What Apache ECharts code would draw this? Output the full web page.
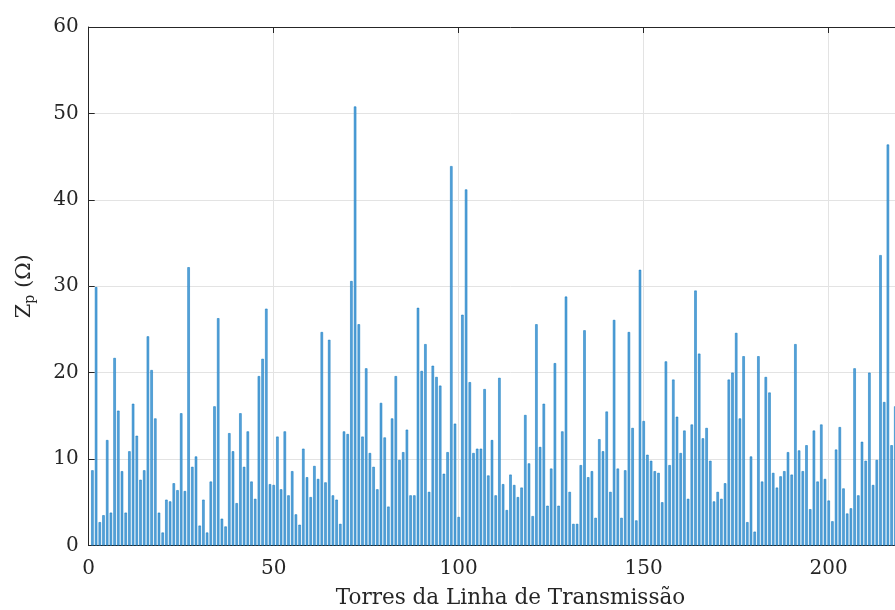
<!DOCTYPE html>
<html>
<head>
<meta charset="utf-8">
<script src="https://cdn.jsdelivr.net/npm/echarts@6/dist/echarts.min.js"></script>
<style>
html,body{margin:0;padding:0;background:#fff;overflow:hidden;}
#wrap{width:895px;height:610px;overflow:hidden;position:relative;}
#c{position:absolute;left:0;top:0;width:940px;height:610px;}
</style>
</head>
<body>
<div id="wrap"><div id="c"></div></div>
<script>
// Tower index (1..218) and grounding impedance Zp (ohm)
const towers = [];
const zp = [
8.7,29.9,2.7,3.5,12.2,3.8,21.7,15.6,8.6,3.8,
10.9,16.4,12.7,7.6,8.7,24.2,20.3,14.7,3.8,1.5,
5.3,5.1,7.2,6.4,15.3,6.3,32.2,9.1,10.3,2.3,
5.3,1.5,7.4,16.1,26.3,3.1,2.2,13.0,10.9,4.9,
15.3,9.1,13.2,7.4,5.4,19.6,21.6,27.4,7.1,7.0,
12.6,6.5,13.2,5.8,8.6,3.6,2.4,11.2,7.9,5.6,
9.2,7.7,24.7,7.3,23.8,5.8,5.3,2.5,13.2,12.9,
30.6,50.8,25.6,12.6,20.5,10.7,9.1,6.5,16.5,12.5,
4.5,14.7,19.6,9.9,10.8,13.4,5.8,5.8,27.5,20.2,
23.3,6.2,20.8,19.5,18.5,8.3,10.8,43.9,14.1,3.3,
26.7,41.2,18.9,10.7,11.2,11.2,18.1,8.1,12.2,5.8,
19.4,7.1,4.1,8.2,7.0,5.6,6.7,15.1,9.5,3.4,
25.6,11.4,16.4,4.6,8.9,21.1,4.6,13.2,28.8,6.2,
2.5,2.5,9.3,24.9,7.9,8.6,3.2,12.3,10.9,15.5,
6.2,26.1,8.9,3.2,8.7,24.7,13.6,2.9,31.9,14.4,
10.5,9.8,8.6,8.4,5.0,21.3,9.3,19.2,14.9,10.7,
13.3,5.4,14.0,29.5,22.2,12.4,13.6,9.8,5.1,6.2,
5.4,7.2,19.2,20.0,24.6,14.7,21.9,2.7,10.3,1.6,
21.9,7.4,19.5,17.7,8.4,6.7,8.0,8.6,10.8,8.2,
23.3,11.0,8.6,11.6,4.2,13.3,7.4,14.0,7.7,5.2,
2.8,11.1,13.7,6.6,3.7,4.3,20.5,5.8,12.0,9.8,
20.0,7.0,9.9,33.6,16.6,46.4,11.6,16.1
];
for (let i = 0; i < zp.length; i++) towers.push(i + 1);
const xTicks = [0, 50, 100, 150, 200];
const yTicks = [0, 10, 20, 30, 40, 50, 60];
const xTitle = 'Torres da Linha de Transmissão';

const FONT = 'DejaVu Serif';
const TXT = '#262626';
const chart = echarts.init(document.getElementById('c'), null, {renderer: 'canvas', width: 940, height: 610});
const XMAX = 228;
const pxPerUnit = 3.7;
const gridLeft = 88.7;
const gridRight = 940 - (gridLeft + XMAX * pxPerUnit);

chart.setOption({
  backgroundColor: '#ffffff',
  animation: false,
  grid: {left: gridLeft, top: 27, bottom: 64.5, right: gridRight, containLabel: false, outerBoundsMode: 'none'},
  xAxis: [{
    type: 'value', min: 0, max: XMAX, interval: 50,
    name: xTitle, nameLocation: 'middle', nameGap: 42,
    nameTextStyle: {fontFamily: FONT, fontSize: 21.5, color: TXT},
    axisLine: {show: true, lineStyle: {color: TXT, width: 1}},
    axisTick: {show: true, inside: true, length: 6, lineStyle: {color: TXT}},
    axisLabel: {fontFamily: FONT, fontSize: 20, color: TXT, margin: 13,
      formatter: v => xTicks.indexOf(v) >= 0 ? String(v) : ''},
    splitLine: {show: true, lineStyle: {color: '#e3e3e3', width: 1}}
  }, {
    type: 'value', min: 0, max: XMAX, interval: 50, position: 'top',
    axisLine: {show: true, lineStyle: {color: TXT, width: 1}},
    axisTick: {show: true, inside: true, length: 6, lineStyle: {color: TXT}},
    axisLabel: {show: false}, splitLine: {show: false}
  }],
  yAxis: {
    type: 'value', min: 0, max: 60, interval: 10,
    name: '{a|Z}{b|p}{a| (Ω)}', nameLocation: 'middle', nameGap: 51, nameRotate: 90,
    nameTextStyle: {
      rich: {
        a: {fontFamily: FONT, fontSize: 21, color: TXT},
        b: {fontFamily: FONT, fontSize: 14, color: TXT, padding: [13, 0, 0, 0]}
      }
    },
    axisLine: {show: true, lineStyle: {color: TXT, width: 1}},
    axisTick: {show: true, inside: true, length: 6, lineStyle: {color: TXT}},
    axisLabel: {fontFamily: FONT, fontSize: 20, color: TXT, margin: 10,
      formatter: v => yTicks.indexOf(v) >= 0 ? String(v) : ''},
    splitLine: {show: true, lineStyle: {color: '#e3e3e3', width: 1}}
  },
  series: [{
    type: 'bar',
    data: towers.map((t, i) => [t, zp[i]]),
    barWidth: 2.4,
    itemStyle: {color: '#5aa3da', borderColor: '#0072bd', borderWidth: 0.5},
    silent: true
  }]
});
</script>
</body>
</html>
